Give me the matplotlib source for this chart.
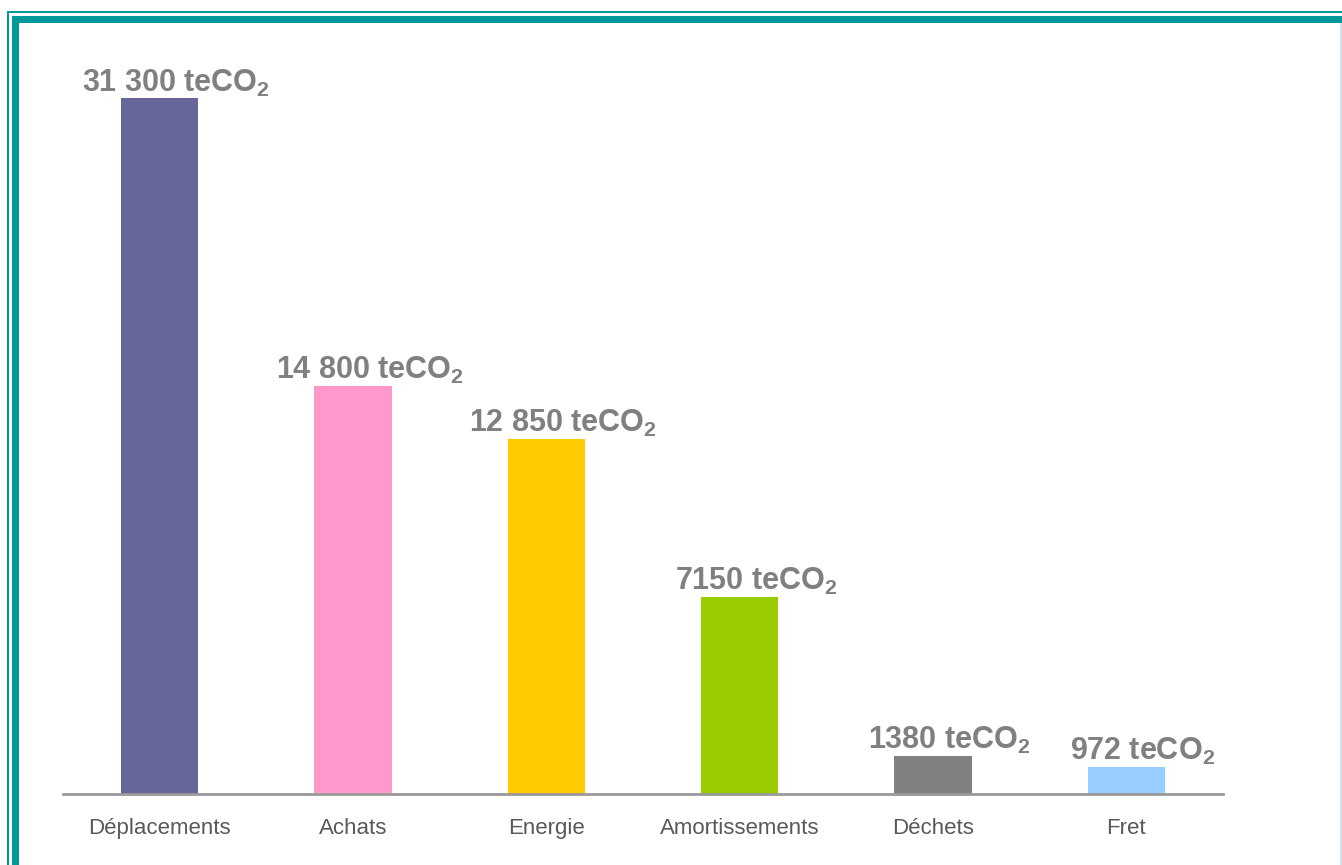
import matplotlib.pyplot as plt
from matplotlib.patches import Rectangle

plt.rcParams['font.family'] = ['Liberation Sans', 'DejaVu Sans']

# Data
categories = ['Déplacements', 'Achats', 'Energie', 'Amortissements', 'Déchets', 'Fret']
values = [31300, 14800, 12850, 7150, 1380, 972]
# drawn bar heights (first bar is shortened in the original)
bar_heights = [25200, 14800, 12850, 7150, 1380, 972]
value_labels = ['31 300', '14 800', '12 850', '7150', '1380', '972']
colors = ['#666699', '#FF99CC', '#FFCC00', '#99CC00', '#808080', '#99CCFF']

W, H = 1342, 865
fig = plt.figure(figsize=(W / 100, H / 100), dpi=100)

def px(x, y, w, h):
    # pixel box (top-left origin) -> figure fraction
    return (x / W, 1 - (y + h) / H, w / W, h / H)

# Teal double frame
teal = '#009999'
for (x, y, w, h, c) in [(7, 11, W - 7, 2, teal), (12, 16, W - 12, 7, teal),
                        (7, 11, 2, H - 11, teal), (12, 16, 7, H - 16, teal),
                        (1340, 23, 2, H - 23, '#cfe3ea')]:
    bx, by, bw, bh = px(x, y, w, h)
    fig.patches.append(Rectangle((bx, by), bw, bh, transform=fig.transFigure,
                                 facecolor=c, edgecolor='none'))

# Axes: baseline at y=794, from x=63 to x=1223
scale = 0.0276  # px per teCO2
top_px = 40
ax = fig.add_axes(px(63, top_px, 1160, 794 - top_px))
x = range(len(categories))
ax.bar(x, bar_heights, width=0.40, color=colors, zorder=2)
ax.set_xlim(-0.5, len(categories) - 0.5)
ax.set_ylim(0, (794 - top_px) / scale)

for i, (h, lab) in enumerate(zip(bar_heights, value_labels)):
    ax.annotate(lab + r' teCO$_\mathregular{2}$', (i, h), xytext=(12, 5),
                textcoords='offset points', ha='center', va='baseline',
                fontsize=22, fontweight='bold', color='#808080')

for s in ['top', 'right', 'left']:
    ax.spines[s].set_visible(False)
ax.spines['bottom'].set_color('#999999')
ax.spines['bottom'].set_linewidth(2)
ax.set_yticks([])
ax.set_xticks(list(x))
ax.set_xticklabels(categories, fontsize=16, color='#595959')
ax.tick_params(axis='x', length=0, pad=17)

fig.savefig('out.png', dpi=100)
